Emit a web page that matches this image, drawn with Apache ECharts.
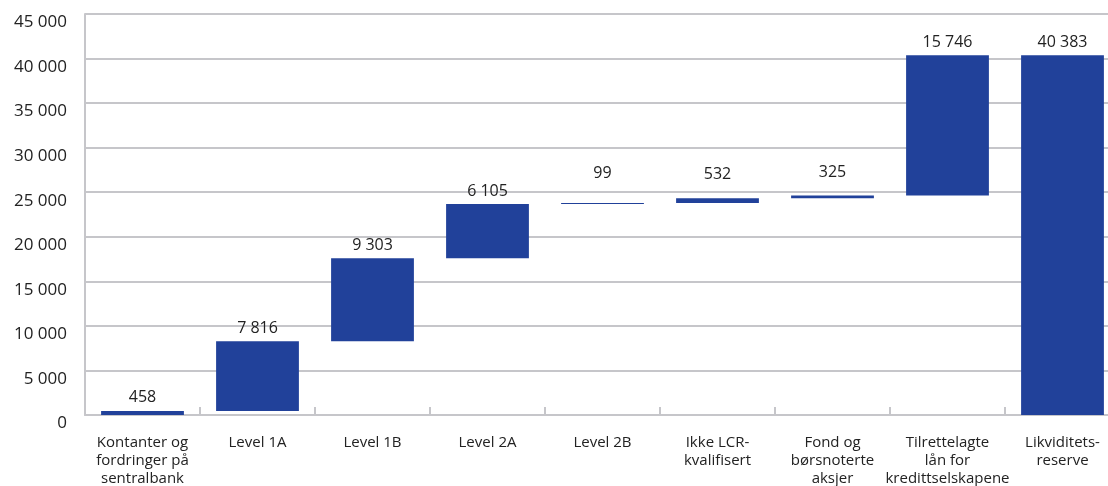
<!DOCTYPE html>
<html>
<head>
<meta charset="utf-8">
<script src="https://cdn.jsdelivr.net/npm/echarts@6/dist/echarts.min.js"></script>
<style>
  html, body { margin: 0; padding: 0; background: #fff; }
  #chart { width: 1108px; height: 486px; }
</style>
</head>
<body>
<div id="chart"></div>
<script>
// kategorier og verdier (mill. kr)
const categories = [
  'Kontanter og\nfordringer på\nsentralbank',
  'Level 1A',
  'Level 1B',
  'Level 2A',
  'Level 2B',
  'Ikke LCR-\nkvalifisert',
  'Fond og\nbørsnoterte\naksjer',
  'Tilrettelagte\nlån for\nkredittselskapene',
  'Likviditets-\nreserve'
]
const increments = [458, 7816, 9303, 6105, 99, 532, 325, 15746, 40383]
const isTotal = [false, false, false, false, false, false, false, false, true]
const yTicks = [0, 5000, 10000, 15000, 20000, 25000, 30000, 35000, 40000, 45000]

// usynlig base for fossefall
const base = []
let running = 0
increments.forEach((v, i) => {
  if (isTotal[i]) {
    base.push(0)
  } else {
    base.push(running)
    running += v
  }
})

const fmt = v => String(v).replace(/\B(?=(\d{3})+(?!\d))/g, ' ')
const font = 'Open Sans'
const barColor = '#21419a'
const gridColor = '#c6c6ca'

const chart = echarts.init(document.getElementById('chart'))
chart.setOption({
  animation: false,
  grid: { left: 85, top: 14, width: 1035, bottom: 71, outerBoundsMode: 'none' },
  xAxis: {
    type: 'category',
    data: categories,
    axisLine: { show: true, lineStyle: { color: gridColor, width: 2 } },
    axisTick: { show: true, inside: true, length: 8, lineStyle: { color: gridColor, width: 2 } },
    axisLabel: {
      interval: 0,
      margin: 19,
      color: '#222',
      fontFamily: font,
      fontSize: 15,
      lineHeight: 18
    }
  },
  yAxis: {
    type: 'value',
    min: 0,
    max: yTicks[yTicks.length - 1],
    interval: yTicks[1] - yTicks[0],
    axisLine: { show: true, lineStyle: { color: gridColor, width: 2 } },
    axisTick: { show: false },
    splitLine: { show: true, lineStyle: { color: gridColor, width: 2 } },
    axisLabel: {
      margin: 18,
      color: '#222',
      fontFamily: font,
      fontSize: 17,
      verticalAlign: 'top',
      formatter: v => fmt(v)
    }
  },
  series: [
    {
      type: 'bar',
      stack: 'w',
      barWidth: '72%',
      itemStyle: { color: 'transparent' },
      silent: true,
      data: base
    },
    {
      type: 'bar',
      stack: 'w',
      barWidth: '72%',
      itemStyle: { color: barColor },
      label: {
        show: true,
        position: 'top',
        distance: 5,
        color: '#222',
        fontFamily: font,
        fontSize: 16,
        formatter: p => fmt(p.value)
      },
      data: increments.map((v, i) => {
        // de små stolpene har etiketten lenger opp
        if (i >= 4 && i <= 6) {
          return { value: v, label: { distance: [22, 16, 15][i - 4] } }
        }
        return v
      })
    }
  ]
})
window.addEventListener('resize', () => chart.resize())
</script>
</body>
</html>
